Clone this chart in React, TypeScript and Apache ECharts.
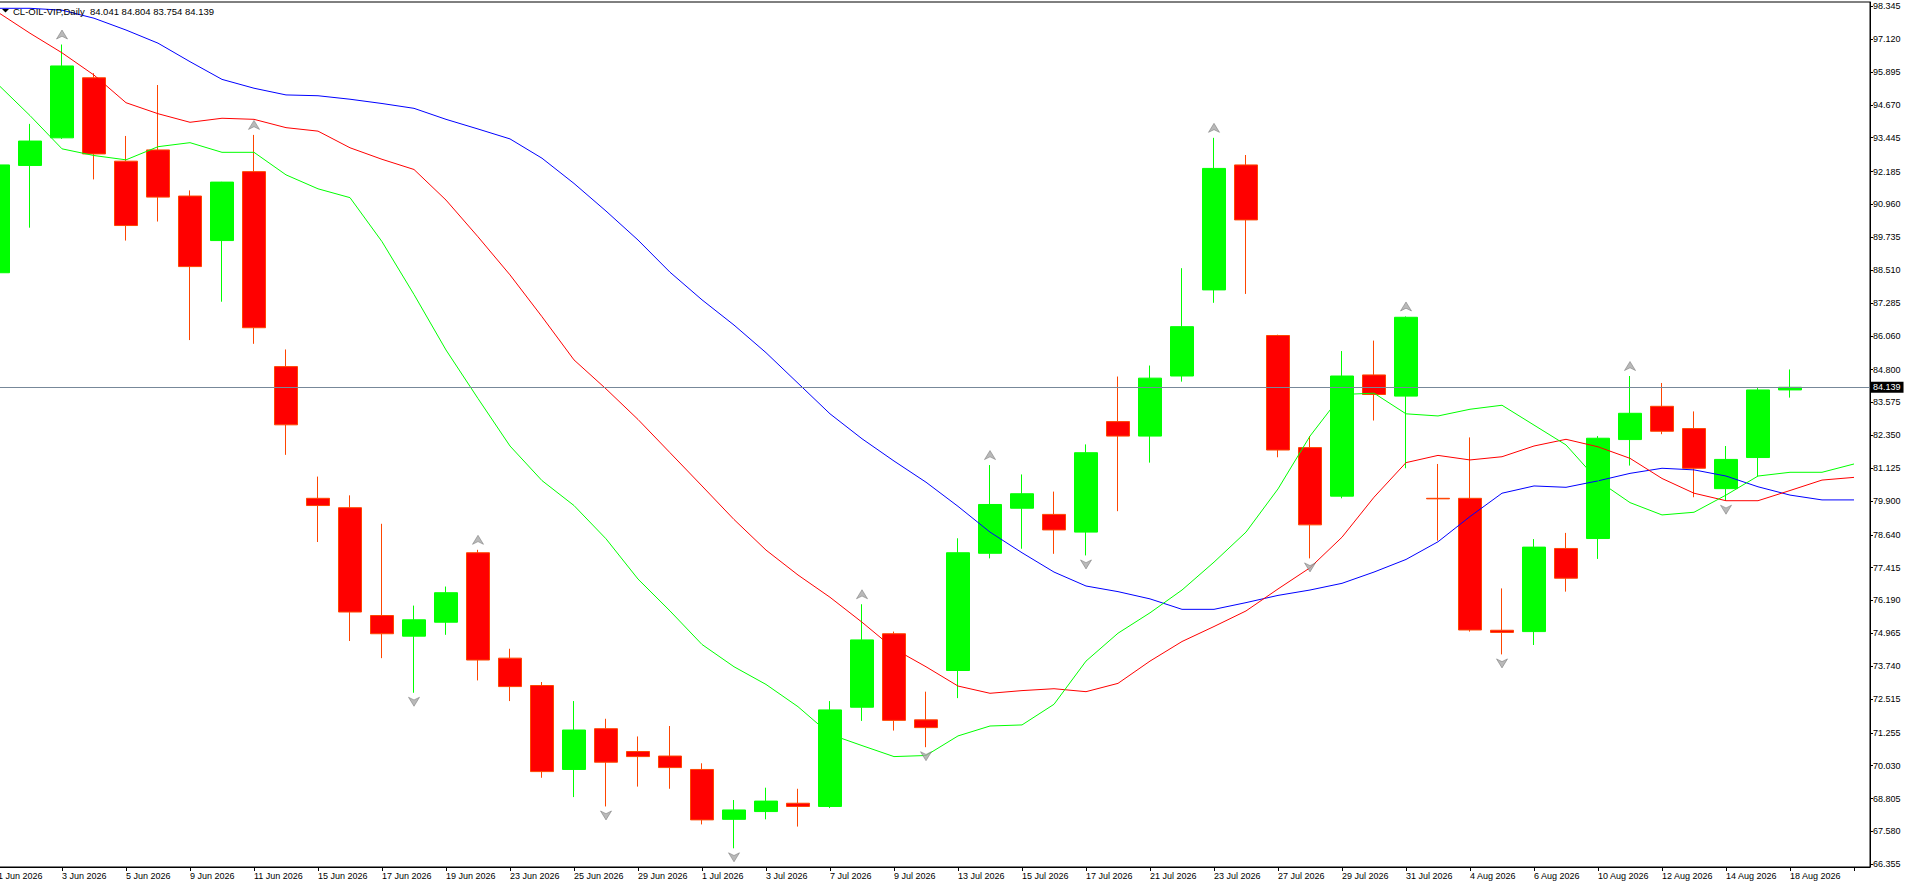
import React, { useEffect, useRef } from "react";
import * as echarts from "echarts";

const categories = [
  "1 Jun 2026", "2 Jun 2026", "3 Jun 2026", "4 Jun 2026", "5 Jun 2026",
  "8 Jun 2026", "9 Jun 2026", "10 Jun 2026", "11 Jun 2026", "12 Jun 2026",
  "15 Jun 2026", "16 Jun 2026", "17 Jun 2026", "18 Jun 2026", "19 Jun 2026",
  "22 Jun 2026", "23 Jun 2026", "24 Jun 2026", "25 Jun 2026", "26 Jun 2026",
  "29 Jun 2026", "30 Jun 2026",
  "1 Jul 2026", "2 Jul 2026", "3 Jul 2026",
  "6 Jul 2026", "7 Jul 2026", "8 Jul 2026", "9 Jul 2026", "10 Jul 2026",
  "13 Jul 2026", "14 Jul 2026", "15 Jul 2026", "16 Jul 2026", "17 Jul 2026",
  "20 Jul 2026", "21 Jul 2026", "22 Jul 2026", "23 Jul 2026", "24 Jul 2026",
  "27 Jul 2026", "28 Jul 2026", "29 Jul 2026", "30 Jul 2026", "31 Jul 2026",
  "3 Aug 2026", "4 Aug 2026", "5 Aug 2026", "6 Aug 2026", "7 Aug 2026",
  "10 Aug 2026", "11 Aug 2026", "12 Aug 2026", "13 Aug 2026", "14 Aug 2026",
  "17 Aug 2026", "18 Aug 2026",
  "19 Aug 2026", "20 Aug 2026",
];

const opens = [
  88.41, 92.41, 93.44, 95.68, 92.57, 92.99, 91.27, 89.61, 92.18, 84.91,
  80.0, 79.65, 75.63, 74.86, 75.38, 77.97, 74.04, 73.02, 69.89, 71.41,
  70.56, 70.39, 69.89, 68.03, 68.32, 68.63, 68.51, 72.21, 74.95, 71.74,
  73.58, 77.95, 79.63, 79.4, 78.74, 82.86, 82.32, 84.56, 87.77, 92.43,
  86.07, 81.89, 80.08, 84.6, 83.81, 80.0, 80.0, 75.08, 75.03, 78.13,
  78.5, 82.19, 83.43, 82.6, 80.36, 81.52, 84.041,
];
const highs = [
  92.5, 93.96, 96.92, 95.85, 93.51, 95.41, 91.48, 91.8, 93.55, 85.55,
  80.81, 80.11, 79.05, 76.0, 76.71, 78.08, 74.39, 73.15, 72.44, 71.78,
  71.12, 71.51, 70.12, 68.75, 69.21, 69.17, 72.44, 76.05, 75.03, 72.79,
  78.51, 81.24, 80.89, 80.25, 82.01, 84.54, 84.95, 88.58, 93.44, 92.8,
  86.1, 82.32, 85.49, 85.88, 86.78, 81.28, 82.27, 76.64, 78.48, 78.71,
  82.32, 84.56, 84.3, 83.24, 81.95, 84.13, 84.804,
];
const lows = [
  88.35, 90.09, 93.4, 91.89, 89.61, 90.32, 85.9, 87.33, 85.76, 81.62,
  78.37, 74.68, 74.04, 72.75, 74.91, 73.21, 72.44, 69.58, 68.86, 68.51,
  69.25, 69.17, 67.84, 66.95, 68.03, 67.76, 68.45, 71.7, 71.34, 70.72,
  72.55, 77.76, 78.12, 77.93, 77.87, 79.52, 81.33, 84.35, 87.29, 87.62,
  81.53, 77.76, 80.0, 82.9, 81.12, 78.42, 75.03, 74.18, 74.53, 76.52,
  77.74, 81.22, 82.39, 80.04, 79.91, 80.81, 83.754,
];
const closes = [
  92.43, 93.32, 96.12, 92.84, 90.17, 91.23, 88.64, 91.79, 86.36, 82.74,
  79.73, 75.76, 74.95, 75.47, 76.48, 73.97, 72.98, 69.81, 71.36, 70.16,
  70.37, 69.96, 68.01, 68.38, 68.71, 68.51, 72.11, 74.72, 71.72, 71.45,
  77.97, 79.77, 80.17, 78.82, 81.7, 82.32, 84.48, 86.4, 92.3, 90.38,
  81.8, 79.01, 84.56, 83.87, 86.75, 79.98, 75.09, 75.0, 78.18, 77.02,
  82.24, 83.17, 82.5, 81.12, 81.45, 84.04, 84.139,
];

// Alligator lines (lips = green, teeth = red, jaw = blue), incl. shifted future values
const lipsLine = [
  95.43, 94.27, 93.03, 92.78, 92.62, 93.11, 93.26, 92.9, 92.9, 92.06,
  91.54, 91.21, 89.57, 87.6, 85.53, 83.72, 81.95, 80.66, 79.73, 78.49,
  76.99, 75.8, 74.55, 73.72, 73.06, 72.23, 71.2, 70.78, 70.37, 70.41,
  71.14, 71.51, 71.55, 72.32, 73.93, 74.97, 75.73, 76.58, 77.62, 78.74,
  80.35, 82.32, 83.87, 83.92, 83.15, 83.07, 83.32, 83.47, 82.73, 81.99,
  80.66, 79.84, 79.38, 79.48, 80.12, 80.83, 80.97, 80.97, 81.28,
];
const teethLine = [
  98.12, 97.34, 96.61, 95.78, 94.75, 94.34, 94.02, 94.17, 94.13, 93.82,
  93.69, 93.07, 92.64, 92.26, 91.12, 89.75, 88.33, 86.77, 85.16, 84.08,
  82.94, 81.7, 80.46, 79.21, 78.07, 77.14, 76.31, 75.38, 74.39, 73.72,
  73.0, 72.73, 72.83, 72.9, 72.79, 73.1, 73.93, 74.66, 75.22, 75.8,
  76.62, 77.41, 78.55, 80.04, 81.33, 81.6, 81.43, 81.55, 81.95, 82.2,
  81.92, 81.49, 80.74, 80.19, 79.91, 79.91, 80.29, 80.68, 80.78,
];
const jawLine = [
  98.27, 98.27, 98.2, 97.9, 97.46, 96.97, 96.28, 95.62, 95.29, 95.04,
  95.01, 94.88, 94.72, 94.54, 94.13, 93.77, 93.4, 92.68, 91.74, 90.71,
  89.63, 88.43, 87.4, 86.46, 85.43, 84.29, 83.15, 82.22, 81.39, 80.6,
  79.7, 78.74, 77.97, 77.25, 76.73, 76.52, 76.25, 75.86, 75.86, 76.11,
  76.38, 76.58, 76.83, 77.25, 77.72, 78.38, 79.32, 80.19, 80.46, 80.41,
  80.65, 80.93, 81.12, 81.06, 80.83, 80.43, 80.12, 79.94, 79.94,
];

const upFractals = [2, 8, 15, 27, 31, 38, 44, 51];
const downFractals = [13, 19, 23, 29, 34, 41, 47, 54];

const priceTicks = [
  98.345, 97.12, 95.895, 94.67, 93.445, 92.185, 90.96, 89.735, 88.51,
  87.285, 86.06, 84.8, 83.575, 82.35, 81.125, 79.9, 78.64, 77.415, 76.19,
  74.965, 73.74, 72.515, 71.255, 70.03, 68.805, 67.58, 66.355,
];

const lastPrice = 84.139;
const titleText = "CL-OIL-VIP,Daily  84.041 84.804 83.754 84.139";

const FONT = '"Liberation Sans", Arial, sans-serif';

export default function App() {
  const ref = useRef<HTMLDivElement>(null);

  useEffect(() => {
    if (!ref.current) return;
    const chart = echarts.init(ref.current, undefined, { renderer: "svg" });

    const nBars = opens.length;
    const candleData = categories.map((_, i) =>
      i < nBars ? [opens[i], closes[i], lows[i], highs[i]] : "-"
    );
    const upData = upFractals.map((i) => [i, highs[i]]);
    const downData = downFractals.map((i) => [i, lows[i]]);

    chart.setOption({
      animation: false,
      backgroundColor: "#ffffff",
      grid: {
        left: -18,
        right: 40,
        top: 2,
        bottom: 19,
        containLabel: false,
        outerBoundsMode: "none",
        show: true,
        borderColor: "#000000",
        borderWidth: 1,
        backgroundColor: "#ffffff",
      },
      xAxis: {
        type: "category",
        data: categories,
        boundaryGap: true,
        axisLine: { show: true, lineStyle: { color: "#000000", width: 1 } },
        axisTick: {
          show: true,
          alignWithLabel: true,
          interval: 1,
          length: 4,
          lineStyle: { color: "#000000" },
        },
        axisLabel: {
          show: true,
          interval: 1,
          align: "left",
          margin: 4,
          color: "#000000",
          fontSize: 9,
          fontFamily: FONT,
          formatter: (v: string, idx: number) => (idx < nBars ? v : ""),
        },
        splitLine: { show: false },
      },
      yAxis: {
        type: "value",
        position: "right",
        min: 66.253,
        max: 98.505,
        scale: true,
        axisLine: { show: true, lineStyle: { color: "#000000", width: 1 } },
        axisTick: {
          show: true,
          length: 3,
          customValues: priceTicks,
          lineStyle: { color: "#000000" },
        },
        axisLabel: {
          show: true,
          customValues: priceTicks,
          margin: 3,
          color: "#000000",
          fontSize: 9,
          fontFamily: FONT,
          formatter: (v: number) => v.toFixed(3),
        },
        splitLine: { show: false },
      },
      series: [
        {
          name: "price",
          type: "candlestick",
          data: candleData,
          barWidth: 24,
          z: 2,
          itemStyle: {
            color: "#00ff00",
            color0: "#ff0000",
            borderColor: "#00ff00",
            borderColor0: "#ff4500",
            borderWidth: 1,
          },
          markLine: {
            silent: true,
            symbol: ["none", "none"],
            animation: false,
            lineStyle: { color: "#778899", width: 1, type: "solid" },
            label: {
              show: true,
              position: "end",
              distance: 1,
              formatter: lastPrice.toFixed(3),
              color: "#ffffff",
              backgroundColor: "#000000",
              padding: [1, 3, 1, 2],
              fontSize: 9,
              fontFamily: FONT,
            },
            emphasis: { disabled: true },
            data: [{ yAxis: lastPrice }],
          },
        },
        {
          name: "jaw",
          type: "line",
          data: jawLine,
          showSymbol: false,
          symbol: "none",
          z: 3,
          lineStyle: { color: "#0000ff", width: 1 },
        },
        {
          name: "teeth",
          type: "line",
          data: teethLine,
          showSymbol: false,
          symbol: "none",
          z: 3,
          lineStyle: { color: "#ff0000", width: 1 },
        },
        {
          name: "lips",
          type: "line",
          data: lipsLine,
          showSymbol: false,
          symbol: "none",
          z: 3,
          lineStyle: { color: "#00ff00", width: 1 },
        },
        {
          name: "fractal up",
          type: "scatter",
          data: upData,
          symbol: "path://M6 0 L12 10 L6 7 L0 10 Z",
          symbolSize: [11, 9],
          symbolOffset: [0, -10],
          z: 4,
          itemStyle: { color: "#a8a8a8", borderColor: "#6a6a6a", borderWidth: 0.6 },
        },
        {
          name: "fractal down",
          type: "scatter",
          data: downData,
          symbol: "path://M6 10 L12 0 L6 3 L0 0 Z",
          symbolSize: [11, 9],
          symbolOffset: [0, 9],
          z: 4,
          itemStyle: { color: "#a8a8a8", borderColor: "#6a6a6a", borderWidth: 0.6 },
        },
      ],
      graphic: [
        {
          type: "polygon",
          z: 100,
          shape: { points: [[2, 9], [9, 9], [5.5, 12.5]] },
          style: { fill: "#000000" },
        },
        {
          type: "text",
          z: 100,
          x: 13,
          y: 6,
          style: {
            text: titleText,
            fill: "#000000",
            font: `9.5px ${FONT}`,
            verticalAlign: "top",
          },
        },
      ],
    });

    return () => {
      chart.dispose();
    };
  }, []);

  return (
    <div
      ref={ref}
      style={{
        position: "fixed",
        left: 0,
        top: 0,
        width: 1910,
        height: 886,
        background: "#ffffff",
      }}
    />
  );
}
